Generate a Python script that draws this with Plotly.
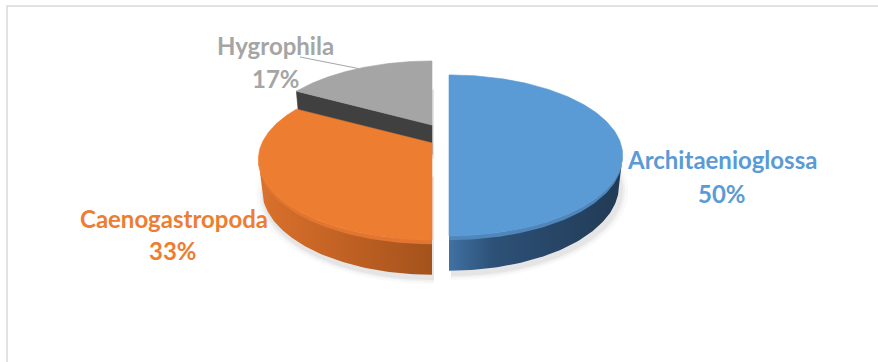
import numpy as np
import plotly.graph_objects as go

# ---------------- data ----------------
categories = ["Architaenioglossa", "Caenogastropoda", "Hygrophila"]
shares = [50, 33, 17]
pct_labels = ["50%", "33%", "17%"]

# ---------------- style ----------------
top_colors = ["#5b9bd5", "#ed7d31", "#a5a5a5"]
bevel_colors = ["#4f86bb", "#e27631", "#949494"]
side_scales = [
    [[0, "#4072a3"], [0.25, "#2d5177"], [1, "#213a55"]],
    [[0, "#db712c"], [0.6, "#bb5e22"], [1, "#a4521c"]],
    [[0, "#7f7f7f"], [1, "#606060"]],
]
cut_face_color = "#404040"
label_font = "Lato"

W, H = 878, 362
R = 170.0
elev = np.radians(27.0)
D = 741.0
depth = 34.0
apex = (432.0, 143.0)
offsets = [(17.0, -4.0), (0.0, 0.0), (0.0, -18.0)]   # explode offsets (screen px)
name_pos = [(722, 159), (174, 218), (275, 45)]
pct_pos = [(722, 193), (173, 250), (276, 78)]
leader_start = (300, 57)


def proj(X, Y, Z, off):
    v = Y * np.sin(elev) + Z * np.cos(elev)
    w = Y * np.cos(elev) - Z * np.sin(elev)
    s = D / (D + w)
    return apex[0] + off[0] + X * s, apex[1] + off[1] - v * s


def rim(th_deg, Z, off, r=R):
    th = np.radians(th_deg)
    return proj(r * np.sin(th), r * np.cos(th), Z, off)


total = sum(shares)
starts, ends = [], []
acc = 0.0
for v in shares:
    starts.append(acc)
    acc += 360.0 * v / total
    ends.append(acc)

q = R * np.cos(elev) / D
sil_a = np.degrees(np.arccos(-q))
sil_b = 360 - sil_a

fig = go.Figure()


def poly(xs, ys, color=None, grad=None, lw=0.6):
    kw = dict(x=list(xs) + [xs[0]], y=list(ys) + [ys[0]], mode="lines", fill="toself",
              hoverinfo="skip", showlegend=False)
    if grad is not None:
        kw["fillgradient"] = dict(type="horizontal", colorscale=grad)
        kw["line"] = dict(width=0)
    else:
        kw["fillcolor"] = color
        kw["line"] = dict(width=lw, color=color)
    fig.add_trace(go.Scatter(**kw))


# soft shadow under the pie
for k, alpha in ((7, 0.025), (4, 0.035), (2, 0.045)):
    for i in range(3):
        off = (offsets[i][0] + 2, offsets[i][1] + 4)
        th = np.linspace(starts[i], ends[i], 120)
        bx, by = rim(th, -depth, off, r=R + k)
        cx, cy = proj(0, 0, -depth, off)
        poly(np.concatenate([[cx], bx]), np.concatenate([[cy], by]),
             color="rgba(0,0,0,%.3f)" % alpha, lw=0)


def draw_slice(i, cut_face_at=None):
    off = offsets[i]
    a, b = starts[i], ends[i]
    if cut_face_at is not None:
        ax_, ay_ = proj(0, 0, 0, off)
        bx_, by_ = proj(0, 0, -depth, off)
        rx0, ry0 = rim(cut_face_at, 0, off)
        rx1, ry1 = rim(cut_face_at, -depth, off)
        poly([ax_, rx0, rx1, bx_], [ay_, ry0, ry1, by_], color=cut_face_color)
    lo, hi = max(a, sil_a), min(b, sil_b)
    if hi > lo:
        th = np.linspace(lo, hi, 80)
        tx, ty = rim(th, 0, off)
        bx, by = rim(th[::-1], -depth, off)
        poly(np.concatenate([tx, bx]), np.concatenate([ty, by]), grad=side_scales[i])
        mx, my = rim(th[::-1], -4, off)
        poly(np.concatenate([tx, mx]), np.concatenate([ty, my]), color=bevel_colors[i], lw=0)
    th = np.linspace(a, b, 160)
    tx, ty = rim(th, 0, off)
    cx, cy = proj(0, 0, 0, off)
    poly(np.concatenate([[cx], tx]), np.concatenate([[cy], ty]), color=top_colors[i])


draw_slice(2, cut_face_at=starts[2])
draw_slice(0)
draw_slice(1)

mid = (starts[2] + ends[2]) / 2
lx, ly = rim(mid, 0, offsets[2])
fig.add_trace(go.Scatter(x=[leader_start[0], lx], y=[leader_start[1], ly], mode="lines",
                         line=dict(color="#a5a5a5", width=1), hoverinfo="skip", showlegend=False))

annotations = []
for i in range(3):
    for txt, (x, y) in ((categories[i], name_pos[i]), (pct_labels[i], pct_pos[i])):
        annotations.append(dict(x=x, y=y, xref="x", yref="y", text=txt, showarrow=False,
                                xanchor="center", yanchor="middle",
                                font=dict(family=label_font, size=24, color=top_colors[i], weight="bold")))

fig.update_layout(
    width=W, height=H, margin=dict(l=0, r=0, t=0, b=0),
    paper_bgcolor="white", plot_bgcolor="white",
    xaxis=dict(range=[0, W], visible=False, fixedrange=True),
    yaxis=dict(range=[H, 0], visible=False, fixedrange=True),
    annotations=annotations,
    shapes=[dict(type="rect", xref="x", yref="y", x0=7, y0=6, x1=W + 10, y1=H + 10,
                 line=dict(color="#d9d9d9", width=1.5), fillcolor="rgba(0,0,0,0)", layer="below")],
)

fig.write_html("out.html", config={"displayModeBar": False},
               post_script="document.body.style.margin='0px';")
